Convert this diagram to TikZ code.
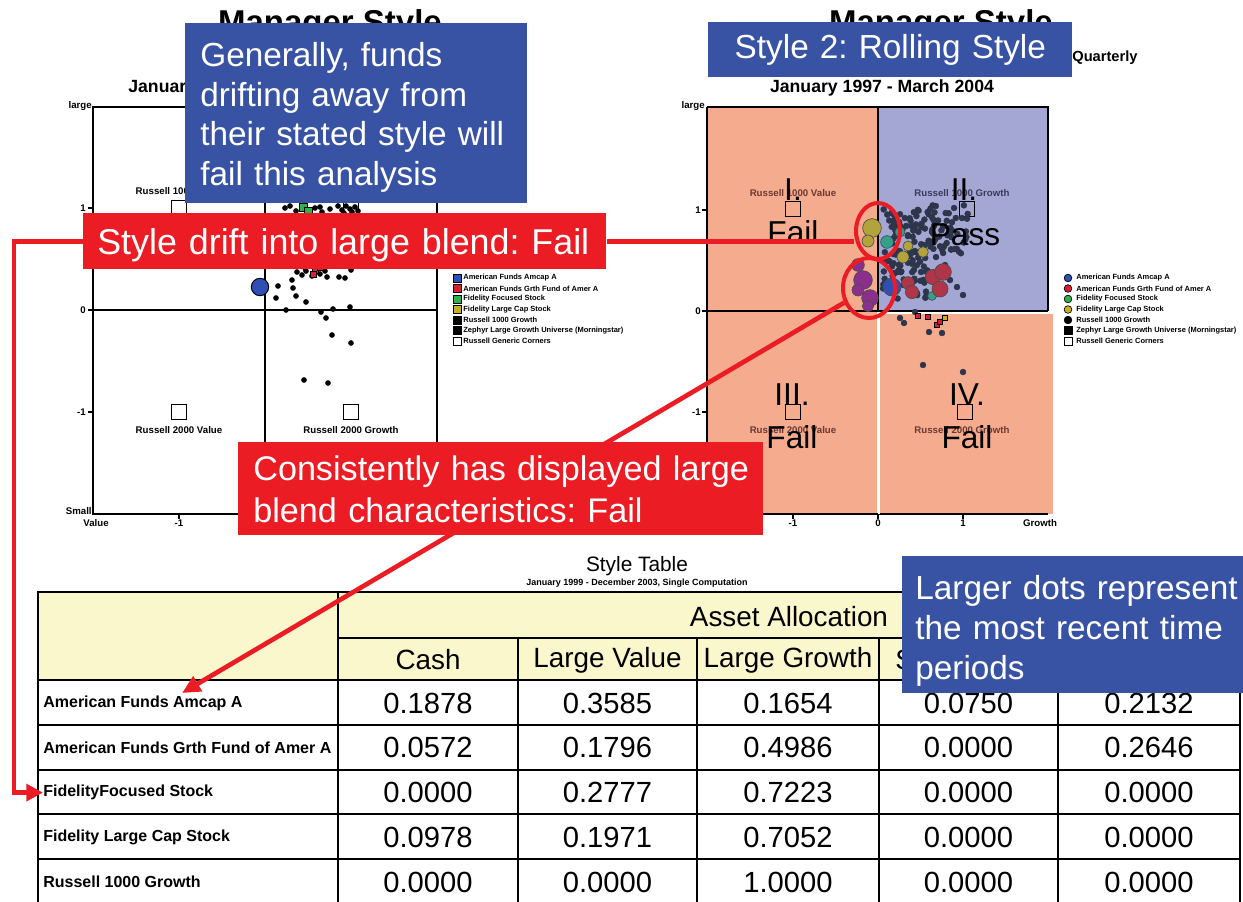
\documentclass[tikz,border=0pt]{standalone}
\usepackage{fontspec}
\setmainfont{Liberation Sans}
\usetikzlibrary{shapes.geometric,arrows.meta}
\definecolor{cred}{HTML}{EC1C24}
\definecolor{cblue}{HTML}{3953A4}
\definecolor{salmon}{HTML}{F5AB8D}
\definecolor{lav}{HTML}{A4A7D4}
\definecolor{hdr}{HTML}{FAF7CD}
\definecolor{navyd}{HTML}{2B3653}
\definecolor{olivec}{HTML}{B2A33A}
\definecolor{tealc}{HTML}{31A08C}
\definecolor{purpc}{HTML}{8B2F8D}
\definecolor{fblue}{HTML}{2E4FB3}
\definecolor{crim}{HTML}{B13549}
\definecolor{fgreen}{HTML}{2DB34A}
\definecolor{goldc}{HTML}{C8B020}
\definecolor{fred}{HTML}{D42030}
\definecolor{dimtxt}{HTML}{6A3A33}
\definecolor{dimtxtb}{HTML}{3A3A5A}
\pgfdeclarelayer{bg}
\pgfdeclarelayer{conn}
\pgfsetlayers{bg,conn,main}
\tikzset{
  axln/.style={line width=0.7pt, black},
  lab/.style={font=\fontsize{5.8}{6}\selectfont\bfseries, inner sep=0pt},
  leg/.style={font=\fontsize{4.5}{5}\selectfont\bfseries, inner sep=0pt, anchor=west},
  ttl/.style={font=\fontsize{19.8}{22}\selectfont\bfseries, inner sep=0pt},
  subt/.style={font=\fontsize{10.6}{12}\selectfont\bfseries, inner sep=0pt},
  bigl/.style={font=\fontsize{19}{22}\selectfont, inner sep=0pt, anchor=base},
  sqn/.style={draw=black, line width=0.7pt, minimum size=9pt, inner sep=0pt},
  tl/.style={line width=0.9pt, black},
  hfont/.style={font=\fontsize{16.7}{18}\selectfont, inner sep=0pt},
  numf/.style={font=\fontsize{17.5}{19}\selectfont, inner sep=0pt},
  rowlab/.style={font=\fontsize{9.6}{11}\selectfont\bfseries, inner sep=0pt, anchor=west},
  callout/.style={text=white, anchor=north west, inner ysep=0pt},
  bluebox/.style={callout, fill=cblue},
  redbox/.style={callout, fill=cred},
  redln/.style={draw=cred, line width=2.8pt},
  ringn/.style={draw=cred, line width=2.4pt, ellipse, inner sep=0pt},
  blackpt/.style={fill=black},
  mk/.style={draw=black, line width=0.4pt, minimum size=4.6pt, inner sep=0pt},
  bub/.style={draw=black!70, line width=0.4pt},
}
\begin{document}
\frenchspacing
\begin{tikzpicture}[x=0.6pt,y=-0.6pt]
\useasboundingbox (0,0) rectangle (1243,901);
\begin{pgfonlayer}{bg}
\fill[white] (0,0) rectangle (1243,901);
% ---------- titles ----------
\node[ttl, anchor=base] (t1) at (330,33) {Manager Style};
\node[ttl, anchor=base] (t2) at (941,33) {Manager Style};
\node[subt, anchor=base west] (s1) at (128,92) {January 1997 - March 2004};
\node[subt, anchor=base] (s2) at (882,92) {January 1997 - March 2004};
\node[subt, font=\fontsize{8.8}{10}\selectfont\bfseries, anchor=base west] (qt) at (1072,61) {Quarterly};
% ---------- left chart ----------
\draw[axln] (93,107) rectangle (437,514);
\draw[axln] (265,107) -- (265,514);
\draw[axln] (93,310) -- (437,310);
\foreach \yy in {208,310,412} \draw[axln] (88,\yy) -- (93,\yy);
\foreach \xx in {179,265,351} \draw[axln] (\xx,514) -- (\xx,519);
\node[lab, anchor=east] (ly1) at (86,208) {1};
\node[lab, anchor=east] (ly0) at (86,310) {0};
\node[lab, anchor=east] (lym) at (86,412) {-1};
\node[lab, anchor=east] (llarge) at (92,106) {large};
\node[lab, anchor=east] (lsmall) at (92,511) {Small};
\node[lab] (lvalue) at (96,523) {Value};
\node[lab] (lxm) at (179,523) {-1};
\node[sqn, fill=white] (lsq1) at (179,208) {};
\node[sqn, fill=white] (lsq2) at (351,208) {};
\node[sqn, fill=white] (lsq3) at (179,412) {};
\node[sqn, fill=white] (lsq4) at (351,412) {};
\node[lab] (lr1) at (179,191) {Russell 1000 Value};
\node[lab] (lr2) at (351,191) {Russell 1000 Growth};
\node[lab] (lr3) at (179,430) {Russell 2000 Value};
\node[lab] (lr4) at (351,430) {Russell 2000 Growth};
\foreach \pa/\pb in {278/286, 292/280, 293/288, 276/298, 296/296, 306/302, 286/310, 321/312, 326/318, 333/309, 350/307, 332/335, 351/343, 304/380, 328/383, 339/277, 351/270, 345/278, 297/272, 302/275, 306/271, 312/276, 320/274, 325/271, 327/277, 285/208, 290/206, 296/211, 320/207, 330/209, 338/206, 342/210, 346/206, 350/209, 355/207, 358/211, 322/212, 315/208, 344/213, 352/212, 300/266, 305/268, 323/266, 318/268}
  \fill[blackpt] (\pa,\pb) circle (1.7pt);
\foreach \pa/\pb in {315/270, 320/267, 313/274}
  \filldraw[fill=fred, draw=black, line width=0.3pt] (\pa-3,\pb-3) rectangle (\pa+3,\pb+3);
\foreach \pa/\pb in {303/207, 308/211}
  \filldraw[fill=fgreen, draw=black, line width=0.3pt] (\pa-4,\pb-4) rectangle (\pa+4,\pb+4);
\filldraw[fill=fblue, draw=black, line width=0.6pt] (260,287) circle (5.2pt);
% left legend
\foreach \tt/\cc/\yy [count=\k] in {American Funds Amcap A/fblue/278, American Funds Grth Fund of Amer A/fred/288.5, Fidelity Focused Stock/fgreen/299, Fidelity Large Cap Stock/goldc/309.5, Russell 1000 Growth/black/320, Zephyr Large Growth Universe (Morningstar)/black/330.5, Russell Generic Corners/white/341}
{
  \node[mk, fill=\cc] (lm\k) at (457,\yy) {};
  \node[leg] (lt\k) at (463,\yy) {\tt};
}
% ---------- right chart ----------
\fill[salmon] (707,107) rectangle (878,311);
\fill[lav] (878,107) rectangle (1048,311);
\fill[salmon] (707,311) rectangle (877,514);
\fill[salmon] (880,314) rectangle (1053,514);
\draw[axln] (707,107) -- (1048,107) -- (1048,311);
\draw[axln] (707,107) -- (707,514) -- (1048,514);
\draw[axln] (707,311) -- (1048,311);
\draw[axln] (878,107) -- (878,311);
\draw[white, line width=1.2pt] (878.5,312) -- (878.5,514);
\foreach \yy in {210,311,412} \draw[axln] (702,\yy) -- (707,\yy);
\foreach \xx in {793,878,963} \draw[axln] (\xx,514) -- (\xx,519);
\node[lab, anchor=east] (ry1) at (701,210) {1};
\node[lab, anchor=east] (ry0) at (701,311) {0};
\node[lab, anchor=east] (rym) at (701,412) {-1};
\node[lab, anchor=east] (rlarge) at (705,106) {large};
\node[lab] (rxm) at (793,523) {-1};
\node[lab] (rx0) at (878,523) {0};
\node[lab] (rx1) at (963,523) {1};
\node[lab] (rgrowth) at (1040,523) {Growth};
\node[lab, text=dimtxt] (rr1) at (793,193) {Russell 1000 Value};
\node[lab, text=dimtxtb] (rr2) at (962,193) {Russell 1000 Growth};
\node[lab, text=dimtxt] (rr3) at (793,430) {Russell 2000 Value};
\node[lab, text=dimtxt] (rr4) at (962,430) {Russell 2000 Growth};
\node[sqn] (rsq1) at (793,209) {};
\node[sqn] (rsq2) at (967,209) {};
\node[sqn] (rsq3) at (793,412) {};
\node[sqn] (rsq4) at (965,412) {};
% navy cluster
\pgfmathsetseed{11}
\foreach \i in {1,...,120} {
  \pgfmathsetmacro\px{883+52*rnd}
  \pgfmathsetmacro\py{208+92*rnd}
  \filldraw[fill=navyd, draw=black!80, line width=0.2pt] (\px,\py) circle (1.8pt);
}
\foreach \i in {1,...,50} {
  \pgfmathsetmacro\px{932+36*rnd}
  \pgfmathsetmacro\py{205+58*rnd}
  \filldraw[fill=navyd, draw=black!80, line width=0.2pt] (\px,\py) circle (1.8pt);
}
\foreach \pa/\pb in {957/287, 963/295, 945/265, 950/280, 904/323, 929/332, 942/333, 923/365, 963/372, 900/318, 915/312}
  \filldraw[fill=navyd, draw=black!80, line width=0.2pt] (\pa,\pb) circle (1.8pt);
\foreach \pa/\pb/\cc in {928/317/fred, 937/325/fred, 940/322/fred, 945/318/goldc, 918/316/fred}
  \filldraw[fill=\cc, draw=black, line width=0.3pt] (\pa-2.5,\pb-2.5) rectangle (\pa+2.5,\pb+2.5);
\foreach \pa/\pb/\rr/\cc in {872/228/5.6/olivec, 868/241/3.6/olivec, 903/257/3.6/olivec, 923/252/3.2/olivec, 908/246/3/olivec, 887/242/3.8/tealc, 900/232/3/tealc, 932/296/2.6/tealc, 858/265/3.8/purpc, 863/280/5.6/purpc, 858/290/3.6/purpc, 870/298/5/purpc, 868/306/3.4/purpc, 892/287/5.4/fblue, 908/283/3.8/crim, 912/292/4/crim, 933/277/4.6/crim, 943/272/5/crim, 940/289/4.8/crim}
  \filldraw[bub, fill=\cc] (\pa,\pb) circle (\rr pt);
% quadrant labels (on top of the dots)
\node[bigl] (q1a) at (793,200) {I.};
\node[bigl] (q1b) at (793,243) {Fail};
\node[bigl] (q2a) at (964,200) {II.};
\node[bigl] (q2b) at (965,245) {Pass};
\node[bigl] (q3a) at (792,405) {III.};
\node[bigl] (q3b) at (792,448) {Fail};
\node[bigl] (q4a) at (967,405) {IV.};
\node[bigl] (q4b) at (967,448) {Fail};
% right legend
\foreach \tt/\cc/\yy [count=\k] in {American Funds Amcap A/fblue/278, American Funds Grth Fund of Amer A/fred/288.5, Fidelity Focused Stock/fgreen/299, Fidelity Large Cap Stock/goldc/309.5, Russell 1000 Growth/black/320}
{
  \node[mk, circle, fill=\cc] (rm\k) at (1068,\yy) {};
  \node[leg] (rt\k) at (1076,\yy) {\tt};
}
\node[mk, fill=black] (rm6) at (1068,330.5) {};
\node[leg] (rt6) at (1076,330.5) {Zephyr Large Growth Universe (Morningstar)};
\node[mk, fill=white] (rm7) at (1068,341) {};
\node[leg] (rt7) at (1076,341) {Russell Generic Corners};
% ---------- table ----------
\node[font=\fontsize{12.5}{14}\selectfont, inner sep=0pt] (stt) at (637,566) {Style Table};
\node[lab, font=\fontsize{5.4}{6}\selectfont\bfseries] (sts) at (637,583) {January 1999 - December 2003, Single Computation};
\fill[hdr] (38,592) rectangle (1240,680);
\draw[tl] (38,592) rectangle (1240,912);
\draw[tl] (338,638) -- (1240,638);
\draw[tl] (38,680) -- (1240,680);
\foreach \yy in {725,770,814,859} \draw[tl] (38,\yy) -- (1240,\yy);
\draw[tl] (338,592) -- (338,912);
\foreach \xx in {518,697,879,1058} \draw[tl] (\xx,638) -- (\xx,912);
\node[hfont] (aa) at (789,617) {Asset Allocation};
\node[hfont] (h1) at (428,660) {Cash};
\node[hfont] (h2) at (607.5,660) {Large Value};
\node[hfont] (h3) at (788,660) {Large Growth};
\node[hfont] (h4) at (968.5,660) {Small Value};
\foreach \nm/\va/\vb/\vc/\vd/\ve [count=\i] in {American Funds Amcap A/0.1878/0.3585/0.1654/0.0750/0.2132, American Funds Grth Fund of Amer A/0.0572/0.1796/0.4986/0.0000/0.2646, FidelityFocused Stock/0.0000/0.2777/0.7223/0.0000/0.0000, Fidelity Large Cap Stock/0.0978/0.1971/0.7052/0.0000/0.0000, Russell 1000 Growth/0.0000/0.0000/1.0000/0.0000/0.0000}
{
  \pgfmathsetmacro\yy{703+44.8*(\i-1)}
  \node[rowlab] (r\i) at (43,\yy) {\nm};
  \node[numf] (v\i-1) at (428,\yy) {\va};
  \node[numf] (v\i-2) at (607.5,\yy) {\vb};
  \node[numf] (v\i-3) at (788,\yy) {\vc};
  \node[numf] (v\i-4) at (968.5,\yy) {\vd};
  \node[numf] (v\i-5) at (1149,\yy) {\ve};
}
\end{pgfonlayer}
% ---------- callouts ----------
\node[bluebox, font=\fontsize{20}{23.7}\selectfont, align=left, inner xsep=9pt, text width=187.2pt, minimum height=108pt] (gen) at (185,23)
  {\mbox{\rule{0pt}{19.4pt}Generally, funds}\\\mbox{drifting away from}\\\mbox{their stated style will}\\\mbox{fail this analysis}};
\node[bluebox, font=\fontsize{20}{23.7}\selectfont, align=center, inner xsep=9pt, text width=200.4pt, minimum height=33pt] (sty) at (708,22)
  {\mbox{Style 2: Rolling Style}};
\node[redbox, font=\fontsize{21.5}{23.7}\selectfont, align=left, inner xsep=8.4pt, text width=297pt, text depth=0pt, minimum height=33.6pt] (rb1) at (83,213)
  {\mbox{Style drift into large blend: Fail}};
\node[redbox, font=\fontsize{20.5}{25.2}\selectfont, align=left, inner xsep=9pt, text width=297pt, minimum height=55.8pt] (rb2) at (238,442)
  {\mbox{Consistently has displayed large}\\\mbox{blend characteristics: Fail}};
\node[bluebox, font=\fontsize{20}{24}\selectfont, align=left, inner xsep=7.8pt, text width=200pt, minimum height=82.2pt] (lrg) at (902,556)
  {\mbox{\rule{0pt}{21.2pt}Larger dots represent}\\\mbox{the most recent time}\\\mbox{periods}};
\node[ringn, minimum width=26.4pt, minimum height=33.6pt] (e1) at (878,231) {};
\node[ringn, minimum width=31.2pt, minimum height=36pt] (e2) at (869,288) {};
\coordinate (amtip) at (182,693);
% ---------- connectors ----------
\begin{pgfonlayer}{conn}
\draw[redln] (rb1.east) -- (rb1.east -| e1.west);
\draw[redln, -{Triangle[length=10pt,width=10pt]}] (rb1.west) -- ++(-69,0) |- (r3.west);
\draw[redln, -{Triangle[length=11pt,width=10pt]}] (e2) -- (amtip);
\end{pgfonlayer}
\end{tikzpicture}
\end{document}
